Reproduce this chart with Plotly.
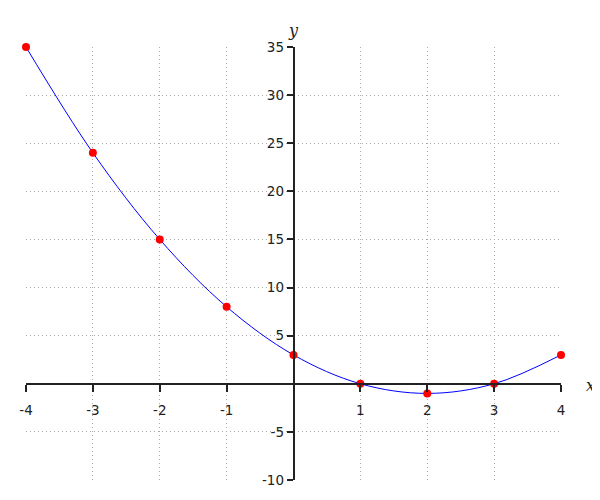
import plotly.graph_objects as go

x_vals = [-4, -3, -2, -1, 0, 1, 2, 3, 4]
y_vals = [35, 24, 15, 8, 3, 0, -1, 0, 3]
x_ticks = [-4, -3, -2, -1, 1, 2, 3, 4]
y_ticks = [-10, -5, 5, 10, 15, 20, 25, 30, 35]

x_range = [-4, 4]
y_range = [-10, 35]

fig = go.Figure()
fig.add_trace(go.Scatter(x=x_vals, y=y_vals, mode="lines",
                         line=dict(color="blue", width=1, shape="spline", smoothing=1),
                         hoverinfo="skip", cliponaxis=False))
fig.add_trace(go.Scatter(x=x_vals, y=y_vals, mode="markers",
                         marker=dict(color="red", size=8), cliponaxis=False))

tickfont = dict(family="DejaVu Sans", size=13.5, color="#222")
fig.update_layout(
    width=600, height=500,
    margin=dict(l=18, r=47, t=39, b=28, pad=0, autoexpand=False),
    paper_bgcolor="white", plot_bgcolor="white",
    showlegend=False,
    xaxis=dict(range=x_range, tickvals=x_ticks, ticktext=[str(v) for v in x_ticks],
               showgrid=True, gridcolor="#aaa", griddash="1px,3px", gridwidth=1,
               zeroline=False, showline=True, linecolor="#222", linewidth=1.5,
               ticks="outside", ticklen=7, tickcolor="#222", tickwidth=1.5,
               tickfont=tickfont, anchor="free", position=(0 - y_range[0]) / (y_range[1] - y_range[0]),
               ticklabelstandoff=7, automargin=False),
    yaxis=dict(range=y_range, tickvals=y_ticks, ticktext=[str(v) for v in y_ticks],
               showgrid=True, gridcolor="#aaa", griddash="1px,3px", gridwidth=1,
               zeroline=False, showline=True, linecolor="#222", linewidth=1.5,
               ticks="outside", ticklen=6, tickcolor="#222", tickwidth=1.5,
               tickfont=tickfont, anchor="free", position=(0 - x_range[0]) / (x_range[1] - x_range[0]),
               automargin=False),
    annotations=[
        dict(text="<i>x</i>", xref="paper", x=1, xshift=29, yref="y", y=0, yshift=-2,
             xanchor="center", yanchor="middle",
             showarrow=False, font=dict(family="DejaVu Serif", size=16, color="#222")),
        dict(text="<i>y</i>", xref="x", x=0, yref="paper", y=1, yshift=17,
             xanchor="center", yanchor="middle",
             showarrow=False, font=dict(family="DejaVu Serif", size=16, color="#222")),
    ],
)

fig.write_html("out.html")
